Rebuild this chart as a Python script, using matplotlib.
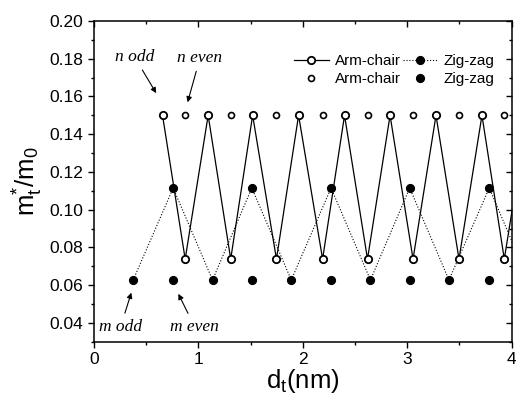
import matplotlib
matplotlib.use("Agg")
import matplotlib.pyplot as plt
from matplotlib.ticker import MultipleLocator

# Data
arm_line_d = [0.657, 0.874, 1.094, 1.31, 1.52, 1.748, 1.96, 2.19, 2.40,
              2.62, 2.836, 3.056, 3.276, 3.496, 3.716, 3.93, 4.15]
arm_line_m = [0.150, 0.0738, 0.150, 0.0738, 0.150, 0.0738, 0.150, 0.0738, 0.150,
              0.0738, 0.150, 0.0738, 0.150, 0.0738, 0.150, 0.0738, 0.150]
arm_dot_d = [0.874, 1.31, 1.748, 2.19, 2.62, 3.056, 3.496, 3.93]
arm_dot_m = [0.150, 0.150, 0.150, 0.150, 0.150, 0.150, 0.150, 0.150]

zig_line_d = [0.376, 0.759, 1.136, 1.512, 1.89, 2.271, 2.648, 3.024, 3.40, 3.786, 4.16]
zig_line_m = [0.0627, 0.1115, 0.0627, 0.1115, 0.0627, 0.1115, 0.0627, 0.1115,
              0.0627, 0.1115, 0.0627]
zig_dot_d = [0.759, 1.512, 2.271, 3.024, 3.786]
zig_dot_m = [0.0627, 0.0627, 0.0627, 0.0627, 0.0627]

plt.rcParams['font.family'] = ['Liberation Sans', 'DejaVu Sans']

fig = plt.figure(figsize=(5.16, 3.99), dpi=100)
ax = fig.add_axes([0.182, 0.1436, 0.8095, 0.8037])

l1, = ax.plot(arm_line_d, arm_line_m, '-', color='black', lw=0.9,
              marker='o', ms=5.3, mfc='white', mec='black', mew=1.3,
              label='Arm-chair', zorder=3)
l2, = ax.plot(arm_dot_d, arm_dot_m, 'none', marker='o', ms=4.3,
              mfc='white', mec='black', mew=1.2, label='Arm-chair')
l3, = ax.plot(zig_line_d, zig_line_m, ':', color='black', lw=0.8,
              marker='o', ms=5.6, mfc='black', mec='black', label='Zig-zag')
l4, = ax.plot(zig_dot_d, zig_dot_m, 'none', marker='o', ms=5.6,
              mfc='black', mec='black', label='Zig-zag')

ax.set_xlim(0, 4)
ax.set_ylim(0.03, 0.20)
ax.xaxis.set_major_locator(MultipleLocator(1))
ax.xaxis.set_minor_locator(MultipleLocator(0.5))
ax.yaxis.set_major_locator(MultipleLocator(0.02))
ax.yaxis.set_minor_locator(MultipleLocator(0.01))
ax.set_xticks([0, 1, 2, 3, 4], ['0', '1', '2', '3', '4'])
ax.yaxis.set_major_formatter(plt.FormatStrFormatter('%.2f'))

ax.tick_params(which='both', direction='out', width=1.0, labelsize=12.5,
               top=True, right=True)
ax.tick_params(which='major', length=4)
ax.tick_params(which='minor', length=2.5)
# top and right ticks point inwards
for t in ax.xaxis.get_major_ticks() + ax.xaxis.get_minor_ticks():
    t.tick2line.set_marker(3)
for t in ax.yaxis.get_major_ticks() + ax.yaxis.get_minor_ticks():
    t.tick2line.set_marker(0)
for s in ax.spines.values():
    s.set_linewidth(1.1)

ax.set_xlabel(r'$\mathregular{d_t}$(nm)', fontsize=18.5, labelpad=0)
ax.set_ylabel(r'$\mathregular{m_t^{*}/m_0}$', fontsize=18.5, labelpad=3)

ax.legend(handles=[l1, l2, l3, l4], ncol=2, frameon=False, fontsize=11,
          loc='upper right', bbox_to_anchor=(0.985, 0.93), handlelength=2.3,
          handletextpad=0.4, columnspacing=0.1, labelspacing=0.25,
          borderaxespad=0.3)

note = dict(fontsize=12.5, family='Liberation Serif', style='italic')
arrow = dict(arrowstyle='-|>', color='black', lw=0.8, mutation_scale=8)
ax.annotate('n odd', xy=(0.61, 0.1605), xytext=(0.2, 0.181), va='center',
            arrowprops=arrow, **note)
ax.annotate('n even', xy=(0.89, 0.1555), xytext=(0.8, 0.1805), va='center',
            arrowprops=arrow, **note)
ax.annotate('m odd', xy=(0.366, 0.0574), xytext=(0.05, 0.038), va='center',
            arrowprops=arrow, **note)
ax.annotate('m even', xy=(0.797, 0.0567), xytext=(0.73, 0.038), va='center',
            arrowprops=arrow, **note)

fig.savefig('out.png', dpi=100)
